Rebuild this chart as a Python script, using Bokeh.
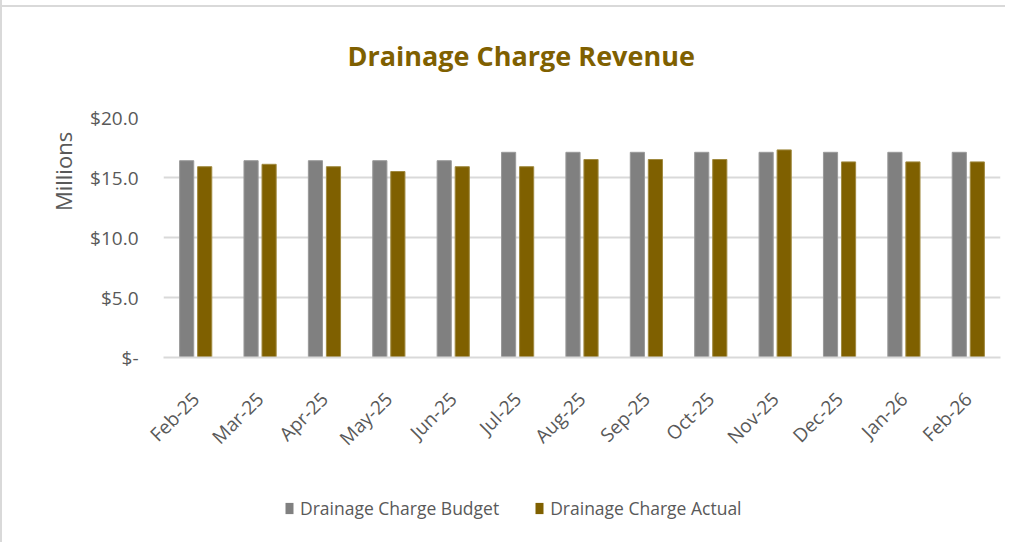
import math
from bokeh.plotting import figure
from bokeh.layouts import column
from bokeh.models import ColumnDataSource, FixedTicker, Title, Legend, LegendItem
from bokeh.transform import dodge
from bokeh.embed import file_html
from bokeh.resources import INLINE

months = ["Feb-25", "Mar-25", "Apr-25", "May-25", "Jun-25", "Jul-25", "Aug-25",
          "Sep-25", "Oct-25", "Nov-25", "Dec-25", "Jan-26", "Feb-26"]
budget = [16.4, 16.4, 16.4, 16.4, 16.4, 17.1, 17.1, 17.1, 17.1, 17.1, 17.1, 17.1, 17.1]
actual = [15.9, 16.1, 15.9, 15.5, 15.9, 15.9, 16.5, 16.5, 16.5, 17.3, 16.3, 16.3, 16.3]
y_ticks = [0, 5, 10, 15, 20]
y_tick_labels = ["$-", "$5.0", "$10.0", "$15.0", "$20.0"]
series_names = ["Drainage Charge Budget", "Drainage Charge Actual"]

FONT = "Open Sans"
TXT = "#595959"
GRID = "#D9D9D9"
C_BUD = "#808080"
C_ACT = "#7F6000"

src = ColumnDataSource(dict(month=months, budget=budget, actual=actual))

p = figure(x_range=months, y_range=(0, 20), width=1005, height=474,
           output_backend="svg", toolbar_location=None,
           min_border_left=161, min_border_right=7, min_border_top=129, min_border_bottom=100)
p.styles = {"border-left": "2px solid #D9D9D9",
            "background": "linear-gradient(#D9D9D9, #D9D9D9) 0 17px / 100% 2px no-repeat"}
p.outline_line_color = None
p.background_fill_color = "white"
p.border_fill_alpha = 0

p.vbar(x=dodge("month", -0.14, range=p.x_range), top="budget", width=0.22, source=src,
       fill_color=C_BUD, line_color="#9a9a9a", line_width=1)
p.vbar(x=dodge("month", 0.14, range=p.x_range), top="actual", width=0.22, source=src,
       fill_color=C_ACT, line_color="#a08a40", line_width=1)

title = Title(text="Drainage Charge Revenue", align="left", offset=184,
              text_font=FONT, text_font_size="27px", text_font_style="bold",
              text_color=C_ACT, vertical_align="bottom", standoff=87)
p.add_layout(title, "above")

p.xgrid.grid_line_color = None
p.ygrid.grid_line_color = GRID
p.ygrid.grid_line_width = 2

p.yaxis.ticker = FixedTicker(ticks=y_ticks)
p.yaxis.major_label_overrides = {t: l for t, l in zip(y_ticks, y_tick_labels)}
p.yaxis.axis_line_color = None
p.yaxis.major_tick_line_color = None
p.yaxis.minor_tick_line_color = None
p.yaxis.major_label_standoff = 19
p.yaxis.major_label_text_font = FONT
p.yaxis.major_label_text_font_size = "19px"
p.yaxis.major_label_text_color = TXT
p.yaxis.axis_label = "\u2003" * 6 + "Millions"
p.yaxis.axis_label_text_font = FONT
p.yaxis.axis_label_text_font_size = "22px"
p.yaxis.axis_label_text_font_style = "normal"
p.yaxis.axis_label_text_color = TXT
p.yaxis.axis_label_standoff = 9

p.xaxis.axis_line_color = GRID
p.xaxis.axis_line_width = 2
p.xaxis.major_tick_line_color = None
p.xaxis.minor_tick_line_color = None
p.xaxis.major_label_orientation = math.pi / 4
p.xaxis.major_label_standoff = 32
p.xaxis.major_label_text_font = FONT
p.xaxis.major_label_text_font_size = "19px"
p.xaxis.major_label_text_color = TXT

# legend strip below the chart
p2 = figure(width=1005, height=80, x_range=(0, 1), y_range=(0, 1),
            output_backend="svg", toolbar_location=None,
            x_axis_location=None, y_axis_location=None,
            min_border_left=0, min_border_right=0, min_border_top=0, min_border_bottom=0)
p2.styles = {"border-left": "2px solid #D9D9D9"}
p2.outline_line_color = None
p2.grid.grid_line_color = None
p2.background_fill_color = "white"
p2.border_fill_color = "white"
# zero-height legend proxies (nothing visible is drawn in the strip itself)
l1 = p2.vbar(x=[0.5], top=[0], bottom=[0], width=0.01, fill_color=C_BUD, line_color=None)
l2 = p2.vbar(x=[0.5], top=[0], bottom=[0], width=0.01, fill_color=C_ACT, line_color=None)

legend = Legend(items=[LegendItem(label=series_names[0], renderers=[l1]),
                       LegendItem(label=series_names[1], renderers=[l2])],
                orientation="horizontal", location=(121, 22),
                padding=0, margin=0, spacing=35, label_standoff=6,
                glyph_width=10, glyph_height=14,
                label_text_font=FONT, label_text_font_size="17.5px", label_text_color=TXT,
                border_line_color=None, background_fill_alpha=0)
p2.add_layout(legend, "center")

layout = column(p, p2, spacing=0)
layout.styles = {"margin-top": "-12px"}
open("out.html", "w").write(file_html(layout, INLINE))
